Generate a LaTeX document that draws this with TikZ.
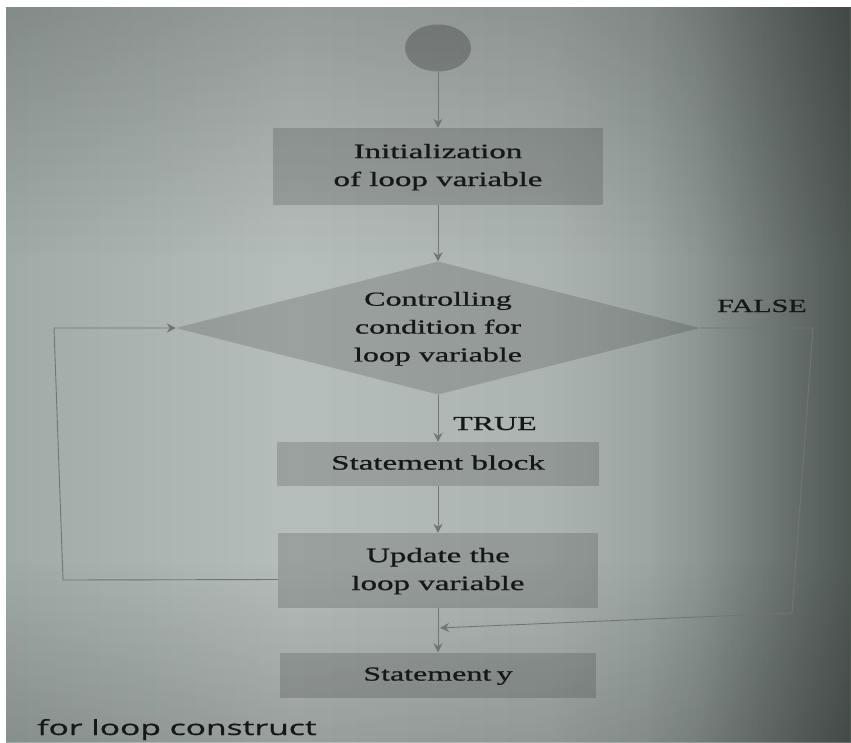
\documentclass[tikz,border=0pt]{standalone}
\usepackage{fontspec}
\setmainfont{Liberation Serif}[FakeBold=0.7]
\newfontfamily\capfont{Open Sans}[FakeBold=0.6]
\usepackage{graphicx}
\usetikzlibrary{shapes.geometric,arrows.meta,fadings}

% paper tones, light on the left and darker towards the right edge
\definecolor{pleft}{RGB}{160,170,166}
\definecolor{pmid}{RGB}{182,190,187}
\definecolor{pmidb}{RGB}{172,180,177}
\definecolor{prighta}{RGB}{148,158,154}
\definecolor{pright}{RGB}{100,110,106}
\definecolor{ink}{RGB}{22,24,24}
\definecolor{wire}{RGB}{112,118,116}

\pgfdeclarehorizontalshading{paper}{100bp}{%
  color(0bp)=(pleft); color(25bp)=(pleft); color(42bp)=(pmid);
  color(57bp)=(pmidb); color(66bp)=(prighta); color(75bp)=(pright);
  color(100bp)=(pright)}
\tikzfading[name=fadetop, top color=transparent!82, bottom color=transparent!100]
\tikzfading[name=fadebot, top color=transparent!100, bottom color=transparent!84]
\tikzfading[name=faderight, left color=transparent!100, right color=transparent!80]

% text squeezed vertically, several lines
\newcommand\sqtext[2][33]{\scalebox{1}[0.62]{\fontsize{#1}{45}\selectfont
  \begin{tabular}{@{}c@{}}#2\end{tabular}}}
% one squeezed line, keeps its baseline
\newcommand\sqone[2][33]{\scalebox{1}[0.62]{\fontsize{#1}{40}\selectfont #2}}

\tikzset{
  shaded/.style={draw=none, fill=black, fill opacity=0.15, text opacity=1,
    text=ink, inner sep=0pt},
  flowbox/.style={shaded, rectangle},
  startdot/.style={shaded, ellipse, fill opacity=0.22},
  decision/.style={shaded, diamond, inner sep=0pt},
  flow/.style={draw=wire, line width=0.9pt,
    -{Stealth[length=9pt,width=9pt]}},
  lbl/.style={anchor=base west, inner sep=0pt, text=ink},
}

\begin{document}
\begin{tikzpicture}[x=1pt,y=-1pt]
\useasboundingbox (0,0) rectangle (851,742);
\clip (0,0) rectangle (851,742);

% page background
\fill[white] (0,0) rectangle (851,742);
\shade[shading=paper] (6,7) rectangle (851,742);
\fill[black, path fading=fadetop] (6,7) rectangle (851,260);
\fill[black, path fading=fadebot] (6,560) rectangle (851,742);
\fill[black, path fading=faderight] (650,7) rectangle (851,742);

% flowchart nodes
\node[startdot, minimum width=66pt, minimum height=47pt] (st) at (438,48) {};
\node[flowbox, minimum width=330pt, minimum height=77pt] (init) at (438,166.5)
  {\sqtext{Initialization\\of loop variable}};
\node[decision, minimum width=524pt, minimum height=133pt] (d) at (438,328) {};
\node[inner sep=0pt, text=ink] (cond) at (d.center)
  {\sqtext[32]{Controlling\\condition for\\loop variable}};
\node[flowbox, minimum width=322pt, minimum height=44pt] (sb) at (438,464)
  {\sqtext{Statement block}};
\node[flowbox, minimum width=320pt, minimum height=75pt] (ub) at (438,570.5)
  {\sqtext{Update the\\loop variable}};
\node[flowbox, minimum width=316pt, minimum height=45pt] (sy) at (438,675)
  {\sqtext[32]{Statement\,y}};

% branch labels
\node[lbl] (tl) at (453,430) {\sqone[32]{TRUE}};
\node[lbl] (fl) at (717,312) {\sqone[30]{FALSE}};

% caption
\node[anchor=base west, inner sep=0pt, text=ink] (cap) at (37,735)
  {\scalebox{1}[0.62]{\capfont\fontsize{33.6}{40}\selectfont for loop construct}};

% corner points of the two loops
\coordinate (lb) at (63,580);
\coordinate (lt) at (54,328);
\coordinate (rt) at (813,328);
\coordinate (rb) at (792,613);
\coordinate (j) at (438,628);

% connectors
\draw[flow] (st.south) -- (init.north);
\draw[flow] (init.south) -- (d.north);
\draw[flow] (d.south) -- (sb.north);
\draw[flow] (sb.south) -- (ub.north);
\draw[flow] (ub.south) -- (sy.north);
\draw[flow] ([yshift=-9pt]ub.west) -- (lb) -- (lt) -- (d.west);
\draw[flow, shorten >=2pt] (d.east) -- (rt) -- (rb) -- (j);
\end{tikzpicture}
\end{document}
